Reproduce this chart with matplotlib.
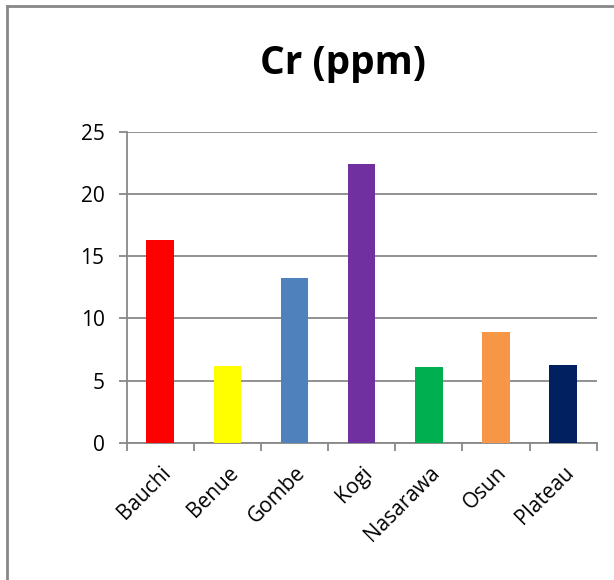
import matplotlib
matplotlib.use("Agg")
import matplotlib.pyplot as plt
from matplotlib.lines import Line2D

# ---------------- дані ----------------
states = ['Bauchi', 'Benue', 'Gombe', 'Kogi', 'Nasarawa', 'Osun', 'Plateau']
cr_ppm = [16.3, 6.2, 13.25, 22.4, 6.05, 8.9, 6.25]
colors = ['#FF0000', '#FFFF00', '#4F81BD', '#7030A0', '#00B050', '#F79646', '#002060']
y_ticks = [0, 5, 10, 15, 20, 25]

grey = '#888888'
plt.rcParams['font.family'] = ['Open Sans', 'DejaVu Sans']

fig = plt.figure(figsize=(6.14, 5.8), dpi=100)
ax = fig.add_axes([0.2063, 0.2367, 0.7655, 0.5362])

x = range(len(states))
ax.bar(x, cr_ppm, width=0.41, color=colors, zorder=3)

ax.set_xlim(-0.5, len(states) - 0.5)
ax.set_ylim(0, 25)
ax.set_yticks(y_ticks)
ax.set_yticklabels([str(v) for v in y_ticks], fontsize=15)
ax.yaxis.grid(True, color=grey, linewidth=1.3, zorder=0)

ax.set_xticks(list(x))
ax.set_xticklabels(states, rotation=45, ha='right', rotation_mode='anchor', fontsize=15)
ax.set_xticks([i - 0.5 for i in range(len(states) + 1)], minor=True)
ax.tick_params(axis='x', which='major', length=0, pad=14)
ax.tick_params(axis='x', which='minor', length=6, color=grey, width=1.3)
ax.tick_params(axis='y', length=6, color=grey, width=1.3, pad=10)

for s in ['top', 'right']:
    ax.spines[s].set_visible(False)
for s in ['left', 'bottom']:
    ax.spines[s].set_color(grey)
    ax.spines[s].set_linewidth(1.3)

fig.text(0.559, 0.891, 'Cr (ppm)', fontsize=28, fontweight='bold',
         ha='center', va='center')

# рамка області діаграми (видно лише ліву і верхню сторони)
fig.add_artist(Line2D([0.011, 0.011], [0.0, 0.989], color=grey, linewidth=2,
                      transform=fig.transFigure))
fig.add_artist(Line2D([0.011, 1.0], [0.989, 0.989], color=grey, linewidth=2,
                      transform=fig.transFigure))

fig.savefig('out.png', dpi=100)
